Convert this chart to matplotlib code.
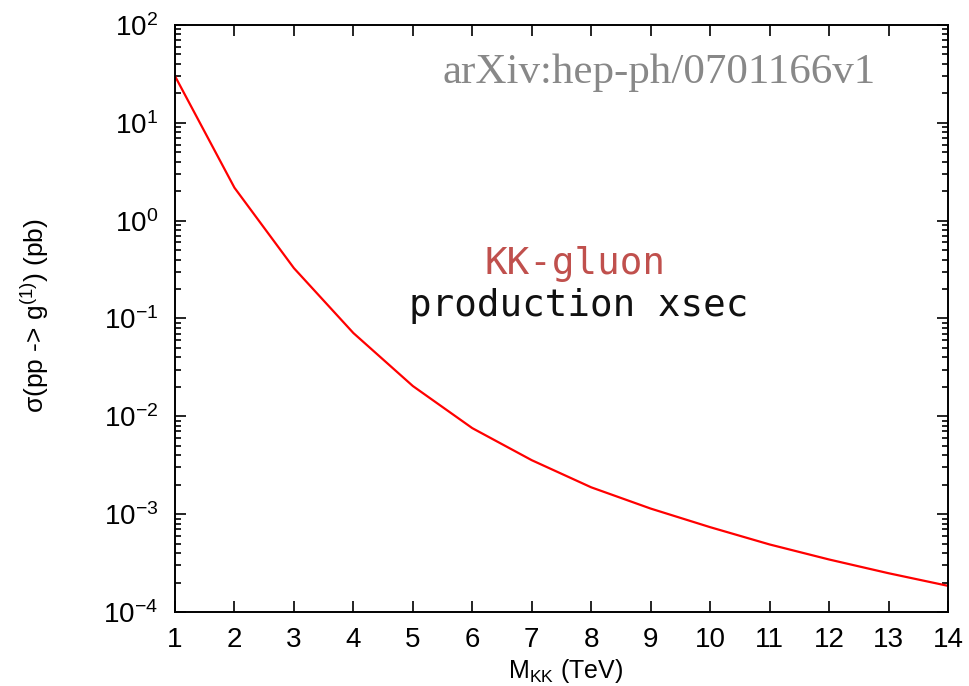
import matplotlib
matplotlib.use("Agg")
import matplotlib.pyplot as plt
from matplotlib.ticker import LogLocator, NullFormatter, FixedLocator

plt.rcParams['font.family'] = ['Liberation Sans', 'DejaVu Sans']
plt.rcParams['mathtext.fontset'] = 'custom'
plt.rcParams['mathtext.rm'] = 'Liberation Sans'
plt.rcParams['mathtext.it'] = 'Liberation Sans:italic'
plt.rcParams['mathtext.bf'] = 'Liberation Sans:bold'

# KK-gluon production cross section vs. KK mass
m_kk = [1, 2, 3, 4, 5, 6, 7, 8, 9, 10, 11, 12, 13, 14]
sigma_pb = [30.0, 2.17, 0.327, 0.071, 0.0204, 0.00757, 0.00356,
            0.00188, 0.00114, 7.36e-4, 4.9e-4, 3.44e-4, 2.49e-4, 1.85e-4]
x_ticks = list(range(1, 15))

fig = plt.figure(figsize=(9.69, 6.86), dpi=100)
ax = fig.add_axes([0.1806, 0.1079, 0.7977, 0.8557])

ax.plot(m_kk, sigma_pb, color='#ff0000', lw=1.6, solid_joinstyle='miter')

ax.set_yscale('log')
ax.set_xlim(1, 14)
ax.set_ylim(1e-4, 1e2)
ax.xaxis.set_major_locator(FixedLocator(x_ticks))
ax.yaxis.set_major_locator(LogLocator(base=10, numticks=10))
ax.yaxis.set_minor_locator(LogLocator(base=10, subs=range(2, 10), numticks=20))
ax.yaxis.set_minor_formatter(NullFormatter())

ax.tick_params(which='both', direction='in', top=True, right=True,
               labelsize=20, width=1.2)
ax.tick_params(axis='x', pad=11)
ax.tick_params(axis='y', pad=12)
ax.tick_params(which='major', length=8)
ax.tick_params(which='minor', length=4)
for s in ax.spines.values():
    s.set_linewidth(1.4)

ax.set_xlabel('M$_{\\rm KK}$ (TeV)', fontsize=18, va='center')
ax.xaxis.set_label_coords(0.505, -0.1)
ax.set_ylabel('σ(pp -> g$^{(1)}$) (pb)', fontsize=19)
ax.yaxis.set_label_coords(-0.16, 0.505)

ax.text(0.906, 0.918, 'arXiv:hep-ph/0701166v1', transform=ax.transAxes,
        ha='right', va='center', fontsize=31, color='#888888',
        family=['Liberation Serif', 'DejaVu Serif'])
ax.text(0.518, 0.592, 'KK-gluon', transform=ax.transAxes, ha='center',
        va='center', fontsize=27, color='#c0504d',
        family=['DejaVu Sans Mono', 'Liberation Mono'])
ax.text(0.522, 0.522, 'production xsec', transform=ax.transAxes, ha='center',
        va='center', fontsize=27, color='#111111',
        family=['DejaVu Sans Mono', 'Liberation Mono'])

fig.savefig('out.png', dpi=100)
